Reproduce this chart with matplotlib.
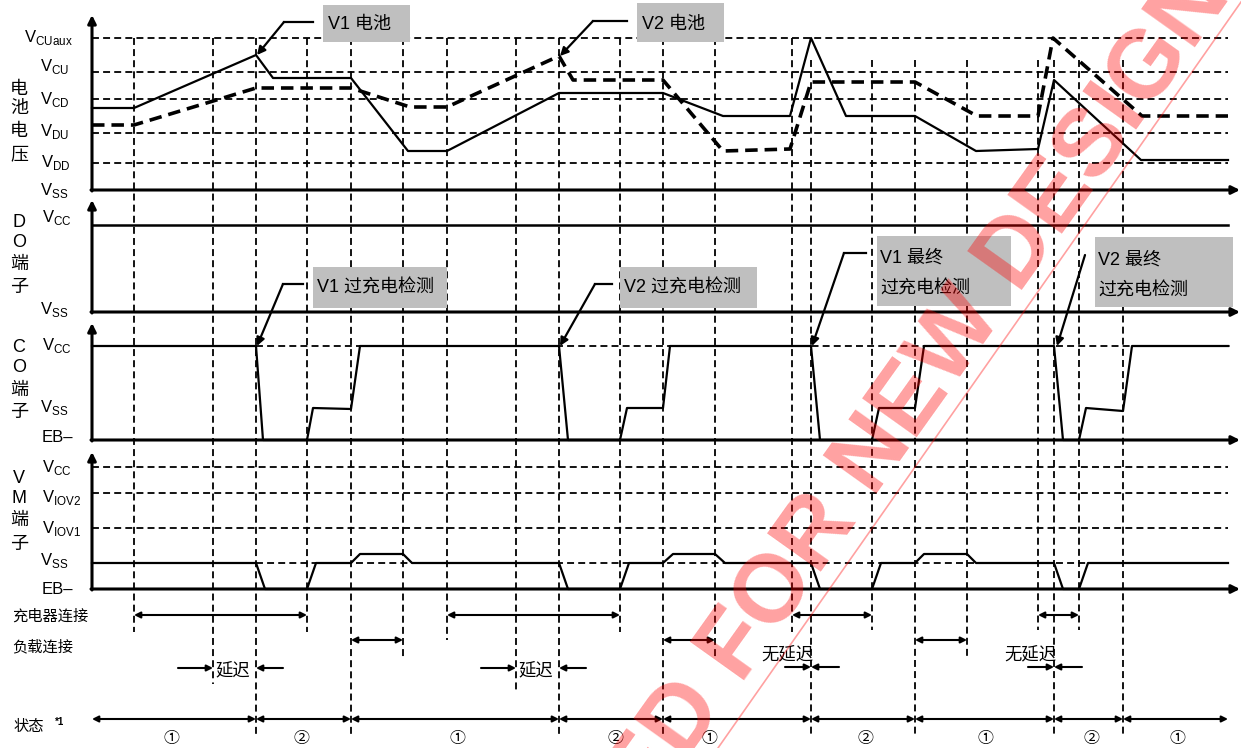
import matplotlib
matplotlib.use('Agg')
import matplotlib.pyplot as plt
import matplotlib.patches as patches

# =============================================================================
# fonts / style
# =============================================================================
plt.rcParams['font.family'] = ['Liberation Sans', 'Noto Sans CJK SC', 'DejaVu Sans']
plt.rcParams['mathtext.fontset'] = 'custom'
plt.rcParams['mathtext.rm'] = 'Liberation Sans'
plt.rcParams['lines.scale_dashes'] = False

W, H = 1241, 748
X0, X1 = 92, 1228          # time axis start / end of traces
GRID_DASH = (0, (5, 3))
BOX_GRAY = '#BFBFBF'

# =============================================================================
# data (time marks in px along the time axis, levels in px)
# =============================================================================
EVENT_T = [134, 213, 256, 307, 351, 403, 447, 516, 559, 620, 663, 715,
           792, 811, 872, 915, 967, 1038, 1054, 1079, 1123]
EVENT_END = [632, 684, 735, 632, 735, 658, 640, 693, 735, 632, 735, 658,
             632, 735, 630, 735, 657, 630, 735, 630, 735]

# battery voltage levels
BAT_LEVEL_Y = [38, 72, 99, 133, 163]
V1_T = [92, 134, 256, 273, 351, 408, 447, 559, 663, 723, 790, 811, 846,
        915, 976, 1038, 1054, 1141, 1228]
V1_Y = [108, 108, 55, 78, 78, 151, 151, 93, 93, 116, 116, 38, 116,
        116, 151, 149, 80, 160, 160]
V2_T = [92, 134, 256, 351, 410, 447, 559, 573, 663, 723, 790, 811, 915,
        977, 1038, 1053, 1142, 1228]
V2_Y = [125, 125, 88, 88, 107, 107, 56, 80, 80, 151, 149, 82, 82,
        116, 116, 38, 116, 116]

# DO terminal
DO_Y = 225

# CO terminal
CO_T = [92, 256, 263, 307, 313, 351, 360, 559, 568, 620, 627, 663, 670,
        811, 820, 872, 879, 915, 924, 1054, 1063, 1079, 1086, 1123, 1132, 1228]
CO_Y = [346, 346, 440, 440, 408, 409, 346, 346, 440, 440, 408, 408, 346,
        346, 440, 440, 408, 408, 346, 346, 440, 440, 408, 411, 346, 346]

# VM terminal
VM_LEVEL_Y = [467, 493, 528]
VM_T = [92, 256, 265, 307, 316, 351, 360, 403, 412, 559, 568, 620, 629,
        663, 673, 715, 725, 811, 820, 872, 881, 915, 924, 967, 976, 1054,
        1063, 1079, 1088, 1228]
VM_Y = [563, 563, 589, 589, 563, 563, 554, 554, 563, 563, 589, 589, 563,
        563, 554, 554, 563, 563, 589, 589, 563, 563, 554, 554, 563, 563,
        589, 589, 563, 563]

CHARGER_SPANS = [(134, 307), (447, 620), (792, 872), (1038, 1079)]
LOAD_SPANS = [(351, 403), (663, 715), (915, 967)]
DELAY_SPANS = [(213, 256), (516, 559)]
NO_DELAY_T = [811, 1054]

STATE_BOUNDS = [92, 256, 351, 559, 663, 811, 915, 1054, 1123, 1228]
STATE_LABELS = ['①', '②', '①', '②', '①', '②', '①', '②', '①']
STATE_LABEL_X = [171, 301, 458, 615, 709, 865, 986, 1091, 1177]

# =============================================================================
# figure
# =============================================================================
fig = plt.figure(figsize=(W / 100, H / 100), dpi=100)
ax = fig.add_axes([0, 0, 1, 1])
ax.set_xlim(0, W)
ax.set_ylim(H, 0)
ax.axis('off')


def arrow(x0, y0, x1, y1, style='-|>', lw=1.5, ms=10, z=4):
    ax.annotate('', xy=(x1, y1), xytext=(x0, y0),
                arrowprops=dict(arrowstyle=style, color='black', lw=lw,
                                mutation_scale=ms, shrinkA=0, shrinkB=0),
                zorder=z)


def draw_axes(top, base):
    """left axis with arrow on top, time axis with arrow on right"""
    arrow(X0, base + 1, X0, top, lw=2.2, ms=12)
    arrow(X0 - 1, base, 1240, base, lw=2.2, ms=12)


def hgrid(xa, xb, y):
    ax.plot([xa, xb], [y, y], color='black', lw=1.3, linestyle=GRID_DASH, zorder=1)


def side_label(chars, ys, x=19):
    for c, y in zip(chars, ys):
        ax.text(x, y, c, ha='center', va='center', fontsize=13)


def tick_label(x, y, s):
    ax.text(x, y, s, ha='left', va='center', fontsize=12)


def callout(x0, y0, x1, y1, lines, tx, ty, dy=31):
    ax.add_patch(patches.Rectangle((x0, y0), x1 - x0, y1 - y0,
                                   facecolor=BOX_GRAY, edgecolor='none', zorder=5))
    for i, s in enumerate(lines):
        ax.text(tx, ty + i * dy, s, ha='left', va='center', fontsize=13, zorder=6)


def leader(pts, target):
    ax.plot([p[0] for p in pts], [p[1] for p in pts], color='black', lw=1.6, zorder=6)
    arrow(pts[-1][0], pts[-1][1], target[0], target[1], lw=1.6, ms=12, z=6)


# -----------------------------------------------------------------------------
# vertical event lines
# -----------------------------------------------------------------------------
for t, end in zip(EVENT_T, EVENT_END):
    top = 38 if t < 800 else 60
    ax.plot([t, t], [top, end], color='black', lw=1.3, linestyle=GRID_DASH, zorder=1)

# -----------------------------------------------------------------------------
# panel 1: battery voltage
# -----------------------------------------------------------------------------
draw_axes(15, 190)
for y in BAT_LEVEL_Y:
    hgrid(X0, X1, y)
ax.plot(V1_T, V1_Y, color='black', lw=1.6, zorder=3)
ax.plot(V2_T, V2_Y, color='black', lw=2.6, linestyle=(0, (9, 5)), zorder=3)
side_label('电池电压', [89, 108, 131, 155])
tick_label(24, 37, r'V$_{\rm CUaux}$')
tick_label(40, 66, r'V$_{\rm CU}$')
tick_label(40, 99, r'V$_{\rm CD}$')
tick_label(40, 131, r'V$_{\rm DU}$')
tick_label(41, 162, r'V$_{\rm DD}$')
tick_label(40, 190, r'V$_{\rm SS}$')

# -----------------------------------------------------------------------------
# panel 2: DO
# -----------------------------------------------------------------------------
draw_axes(200, 312)
ax.plot([X0, X1], [DO_Y, DO_Y], color='black', lw=1.8, zorder=3)
side_label(['D', 'O', '端', '子'], [222, 242, 264, 287])
tick_label(42, 217, r'V$_{\rm CC}$')
tick_label(40, 309, r'V$_{\rm SS}$')

# -----------------------------------------------------------------------------
# panel 3: CO
# -----------------------------------------------------------------------------
draw_axes(323, 440)
hgrid(256, 1232, 346)
ax.plot(CO_T, CO_Y, color='black', lw=1.6, zorder=3)
side_label(['C', 'O', '端', '子'], [347, 367, 390, 412])
tick_label(42, 345, r'V$_{\rm CC}$')
tick_label(40, 407, r'V$_{\rm SS}$')
tick_label(42, 437, 'EB–')

# -----------------------------------------------------------------------------
# panel 4: VM
# -----------------------------------------------------------------------------
draw_axes(452, 589)
for y in VM_LEVEL_Y:
    hgrid(X0, X1, y)
hgrid(256, X1, 563)
ax.plot(VM_T, VM_Y, color='black', lw=1.6, zorder=3)
side_label(['V', 'M', '端', '子'], [478, 498, 520, 544])
tick_label(42, 467, r'V$_{\rm CC}$')
tick_label(42, 497, r'V$_{\rm IOV2}$')
tick_label(42, 528, r'V$_{\rm IOV1}$')
tick_label(40, 561, r'V$_{\rm SS}$')
tick_label(42, 589, 'EB–')

# -----------------------------------------------------------------------------
# callouts
# -----------------------------------------------------------------------------
callout(323, 5, 410, 42, ['V1 电池'], 328, 24)
leader([(313, 22), (284, 22)], (257, 55))
callout(637, 3, 724, 42, ['V2 电池'], 642, 24)
leader([(627, 21), (593, 21)], (560, 56))
callout(313, 267, 447, 308, ['V1 过充电检测'], 317, 288)
leader([(303, 284), (283, 284)], (257, 346))
callout(620, 267, 757, 308, ['V2 过充电检测'], 624, 288)
leader([(612, 284), (595, 284)], (560, 346))
callout(877, 236, 1011, 306, ['V1 最终', '过充电检测'], 880, 258)
leader([(866, 253), (844, 253)], (812, 346))
callout(1095, 237, 1233, 307, ['V2 最终', '过充电检测'], 1098, 260)
leader([(1085, 255)], (1057, 346))

# -----------------------------------------------------------------------------
# bottom rows: charger / load / delay / state
# -----------------------------------------------------------------------------
ax.text(12, 616, '充电器连接', ha='left', va='center', fontsize=11)
ax.text(12, 647, '负载连接', ha='left', va='center', fontsize=11)
ax.text(14, 727, '状态', ha='left', va='center', fontsize=11)
ax.text(55, 722, '*1', ha='left', va='center', fontsize=7, fontweight='bold')

for a, b in CHARGER_SPANS:
    arrow(a, 615, b, 615, style='<|-|>', lw=1.5, ms=9)
for a, b in LOAD_SPANS:
    arrow(a, 640, b, 640, style='<|-|>', lw=1.5, ms=9)
for a, b in DELAY_SPANS:
    arrow(a - 35, 668, a, 668, lw=1.5, ms=9)
    arrow(b + 27, 668, b, 668, lw=1.5, ms=9)
    ax.text(a + 2, 670, '延迟', ha='left', va='center', fontsize=12.5)
for t in NO_DELAY_T:
    arrow(t - 26, 667, t, 667, lw=1.5, ms=9)
    arrow(t + 28, 667, t, 667, lw=1.5, ms=9)
    ax.text(t - 24, 654, '无延迟', ha='center', va='center', fontsize=12.5)

for i in range(len(STATE_LABELS)):
    arrow(STATE_BOUNDS[i], 719, STATE_BOUNDS[i + 1], 719, style='<|-|>', lw=1.5, ms=9)
    ax.text(STATE_LABEL_X[i], 739, STATE_LABELS[i], ha='center', va='center', fontsize=11.5)

# -----------------------------------------------------------------------------
# watermark
# -----------------------------------------------------------------------------
WM = dict(color='red', alpha=0.37, fontsize=69, fontweight='bold', rotation=54.5,
          rotation_mode='anchor', va='baseline', zorder=10)
ax.text(725, 706, 'NOT RECOMMENDED', ha='right', **WM)
ax.text(725, 706, ' FOR NEW DESIGN', ha='left', **WM)
ax.plot([718, 1241], [748, 2], color='red', alpha=0.37, lw=1.2, zorder=10)

fig.savefig('out.png', dpi=100, facecolor='white')
plt.close(fig)
